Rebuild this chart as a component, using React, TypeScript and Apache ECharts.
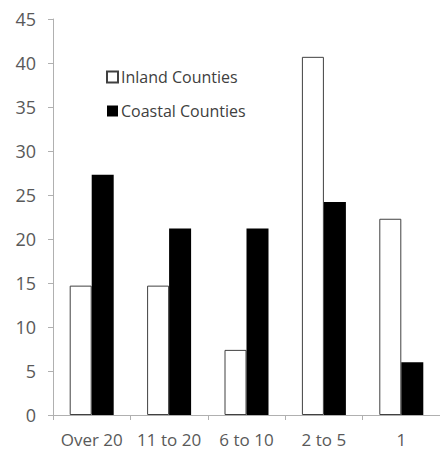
import React, { useEffect, useRef } from "react";
import * as echarts from "echarts";

const categories = ["Over 20", "11 to 20", "6 to 10", "2 to 5", "1"];
const inlandValues = [14.7, 14.7, 7.4, 40.7, 22.3];
const coastalValues = [27.3, 21.2, 21.2, 24.2, 6.0];
const seriesNames = ["Inland Counties", "Coastal Counties"];

export default function App() {
  const ref = useRef<HTMLDivElement>(null);
  useEffect(() => {
    if (!ref.current) return;
    const chart = echarts.init(ref.current, null, { renderer: "svg" });
    const font = "'Open Sans', 'Noto Sans', sans-serif";
    chart.setOption({
      animation: false,
      backgroundColor: "#ffffff",
      grid: { left: 53, top: 19, width: 390, height: 396, containLabel: false },
      legend: {
        orient: "vertical",
        left: 101,
        top: 64,
        itemWidth: 11,
        itemHeight: 11,
        itemGap: 18,
        icon: "rect",
        textStyle: { fontFamily: font, fontSize: 16, color: "#404040", padding: [0, 0, 0, -2] },
        data: seriesNames,
      },
      xAxis: {
        type: "category",
        data: categories,
        axisLine: { lineStyle: { color: "#b0b0b0", width: 1 } },
        axisTick: { show: true, length: 5, lineStyle: { color: "#b0b0b0" } },
        axisLabel: { interval: 0, fontFamily: font, fontSize: 17, color: "#595959", margin: 16 },
      },
      yAxis: {
        type: "value",
        min: 0,
        max: 45,
        interval: 5,
        splitLine: { show: false },
        axisLine: { show: true, lineStyle: { color: "#b0b0b0", width: 1 } },
        axisTick: { show: true, length: 5, lineStyle: { color: "#b0b0b0" } },
        axisLabel: { fontFamily: font, fontSize: 18, color: "#595959", margin: 17 },
      },
      series: [
        {
          name: seriesNames[0],
          type: "bar",
          data: inlandValues,
          barWidth: 22,
          barGap: "0%",
          itemStyle: { color: "#ffffff", borderColor: "#404040", borderWidth: 1 },
        },
        {
          name: seriesNames[1],
          type: "bar",
          data: coastalValues,
          barWidth: 22,
          barGap: "0%",
          itemStyle: { color: "#000000" },
        },
      ],
    });
    return () => chart.dispose();
  }, []);
  return <div ref={ref} style={{ width: 440, height: 454, position: "absolute", left: 0, top: 0 }} />;
}
